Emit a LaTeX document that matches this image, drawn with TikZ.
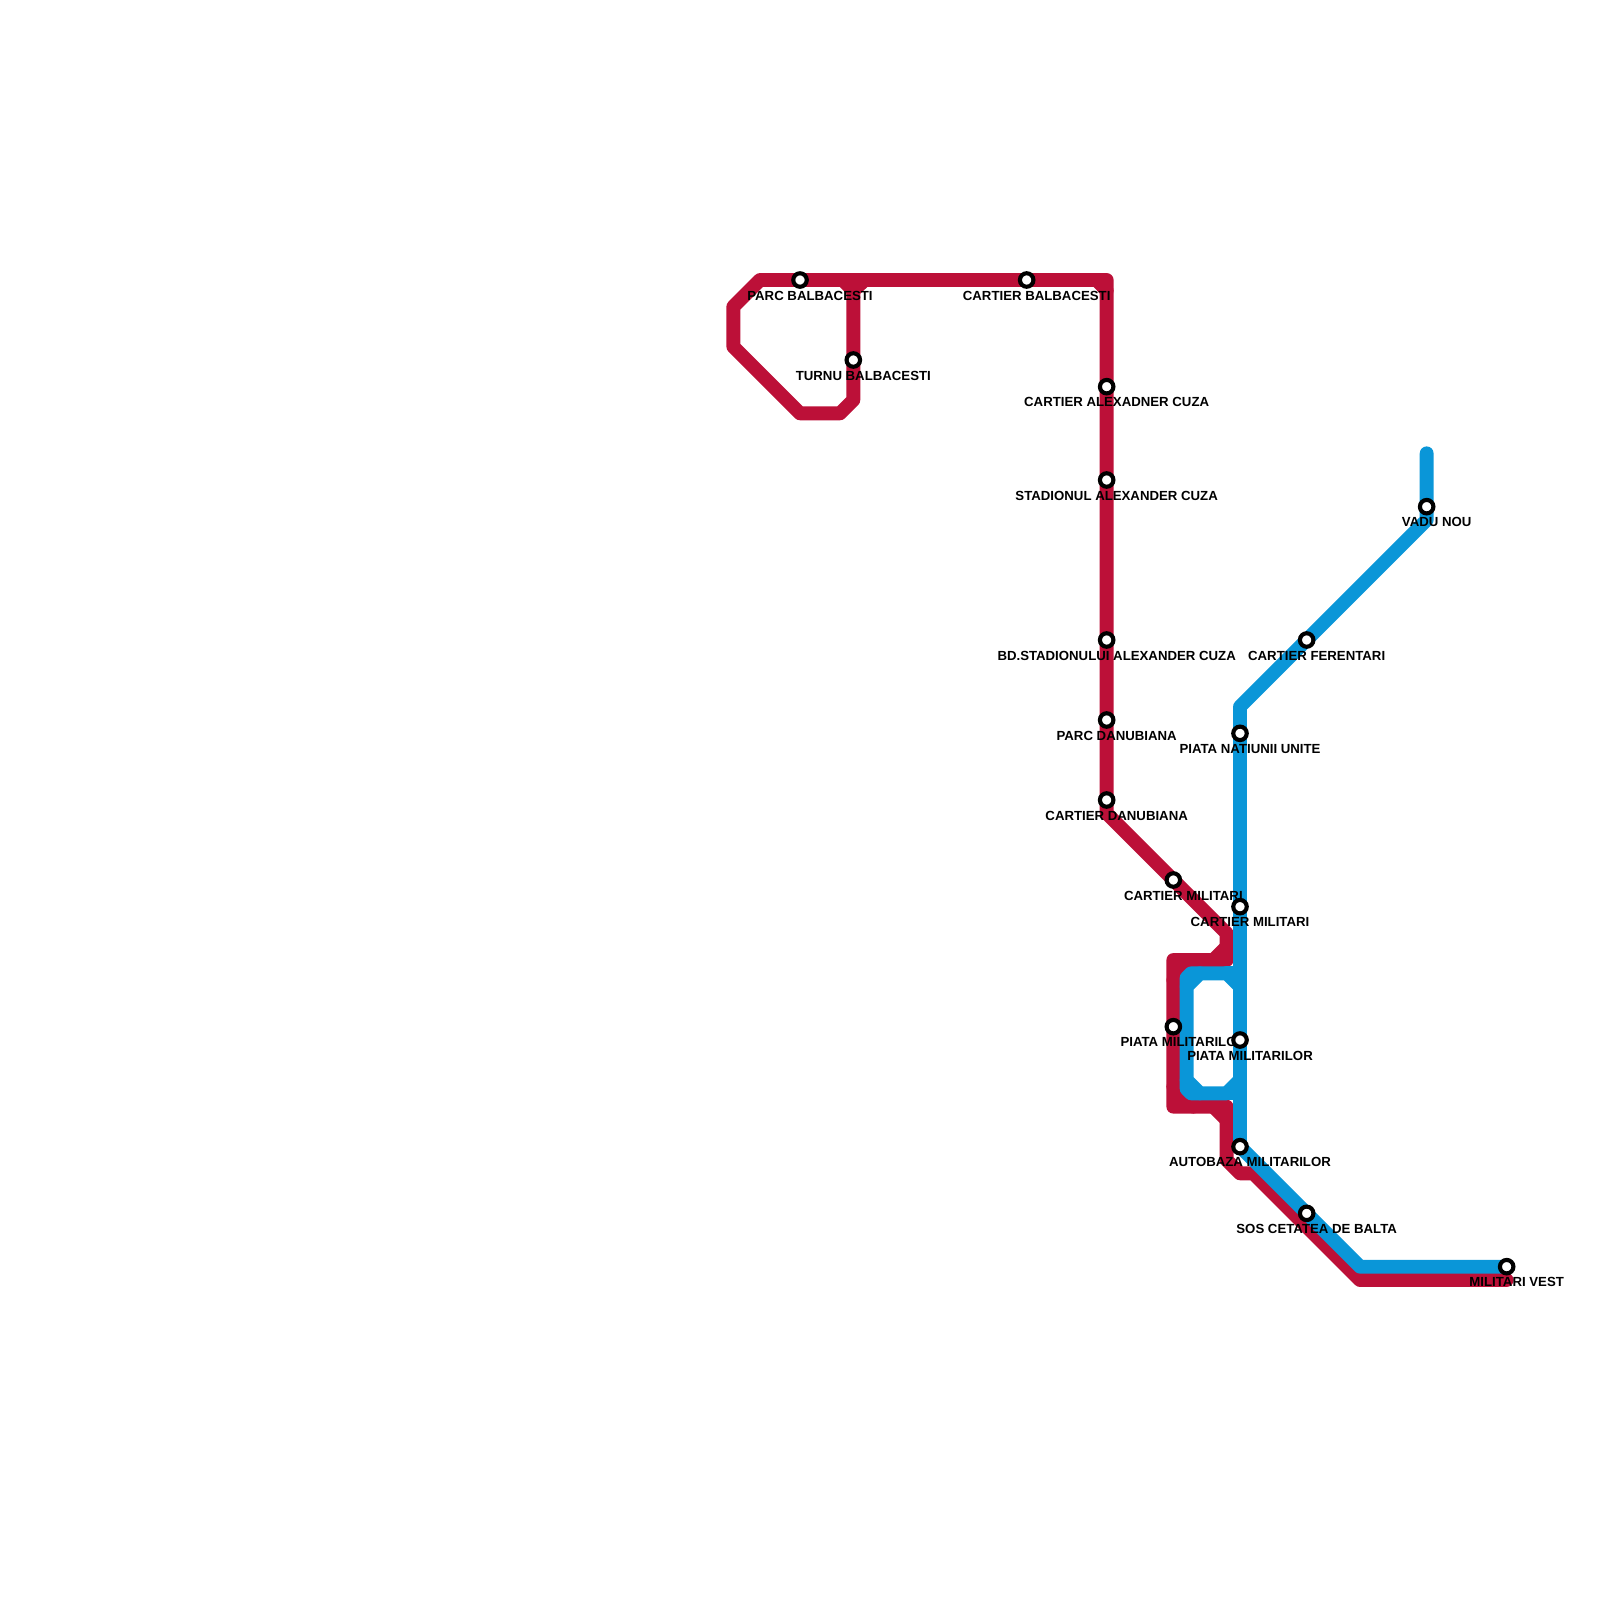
\documentclass[tikz,border=0pt]{standalone}
\usepackage{fontspec}
\setmainfont{Liberation Sans}
\usetikzlibrary{backgrounds}
\definecolor{linered}{HTML}{BC1038}
\definecolor{lineblue}{HTML}{0A96D8}
\tikzset{
  metro/.style={line width=0.52cm, line cap=round, line join=round},
  station/.style={circle, draw=black, fill=white, line width=4.4pt, minimum size=14.4pt, inner sep=0pt},
  stationlabel/.style={font=\bfseries\fontsize{14.1pt}{14.5pt}\selectfont, inner sep=0pt, text=black}
}
\begin{document}
\begin{tikzpicture}[x=0.5cm,y=-0.5cm]
  \useasboundingbox (0,0) rectangle (120,120);
  % stations
  \foreach \name/\pos/\txt in {
    parcbalb/{60,21}/PARC BALBACESTI,
    turnubalb/{64,27}/TURNU BALBACESTI,
    cartbalb/{77,21}/CARTIER BALBACESTI,
    cartalex/{83,29}/CARTIER ALEXADNER CUZA,
    stadalex/{83,36}/STADIONUL ALEXANDER CUZA,
    bdstad/{83,48}/BD.STADIONULUI ALEXANDER CUZA,
    parcdanub/{83,54}/PARC DANUBIANA,
    cartdanub/{83,60}/CARTIER DANUBIANA,
    cartmilred/{88,66}/CARTIER MILITARI,
    piatamilred/{88,77}/PIATA MILITARILOR,
    vadu/{107,38}/VADU NOU,
    ferentari/{98,48}/CARTIER FERENTARI,
    natiunii/{93,55}/PIATA NATIUNII UNITE,
    cartmilblue/{93,68}/CARTIER MILITARI,
    piatamilblue/{93,78}/PIATA MILITARILOR,
    autobaza/{93,86}/AUTOBAZA MILITARILOR,
    cetatea/{98,91}/SOS CETATEA DE BALTA,
    militarivest/{113,95}/MILITARI VEST}
  {
    \node[station] (\name) at (\pos) {};
    \node[stationlabel] (\name-label) at ([xshift=10.67pt,yshift=-16.5pt]\name.center) {\txt};
  }
  % bends of the red line
  \coordinate (r1) at (113,96);
  \coordinate (r2) at (102,96);
  \coordinate (r3) at (94,88);
  \coordinate (r4) at (93,88);
  \coordinate (r5) at (92,87);
  \coordinate (r6) at (92,83);
  \coordinate (r7) at (88,83);
  \coordinate (r8) at (91,83);
  \coordinate (r9) at (92,84);
  \coordinate (r10) at (88,72);
  \coordinate (r11) at (92,72);
  \coordinate (r12) at (91,72);
  \coordinate (r13) at (92,71);
  \coordinate (r14) at (92,70);
  \coordinate (r15) at (83,61);
  \coordinate (r16) at (83,21);
  \coordinate (r17a) at (82.25,21);
  \coordinate (r17b) at (83,21.8);
  \coordinate (r18) at (57,21);
  \coordinate (r19) at (55,23);
  \coordinate (r20) at (55,26);
  \coordinate (r21) at (60,31);
  \coordinate (r22) at (63,31);
  \coordinate (r23) at (64,30);
  \coordinate (r24) at (64,21);
  \coordinate (r25) at (63.2,21);
  \coordinate (r26) at (64,21.8);
  \coordinate (r27) at (64.85,21);
  \coordinate (r28) at (88,73.5);
  \coordinate (r29) at (89.5,72);
  \coordinate (r30) at (88,81.5);
  \coordinate (r31) at (89.5,83);
  % bends of the blue line
  \coordinate (b1) at (107,34);
  \coordinate (b2) at (107,39);
  \coordinate (b3) at (93,53);
  \coordinate (b4) at (102,95);
  \coordinate (b5) at (93,74);
  \coordinate (b6) at (92,73);
  \coordinate (b7) at (90,73);
  \coordinate (b8) at (89,74);
  \coordinate (b9) at (89,81);
  \coordinate (b10) at (90,82);
  \coordinate (b11) at (92,82);
  \coordinate (b12) at (93,81);
  \coordinate (b13) at (93,73);
  \coordinate (b14) at (93,82);
  \coordinate (b15) at (89,73.33);
  \coordinate (b16) at (89.33,73);
  \coordinate (b17) at (89,81.67);
  \coordinate (b18) at (89.33,82);
  \begin{scope}[on background layer]
    \draw[metro, linered] (r1) -- (r2) -- (r3) -- (r4) -- (r5) -- (r6) -- (r7) -- (r10) -- (r11) -- (r14) -- (r15) -- (r16)
      -- (r18) -- (r19) -- (r20) -- (r21) -- (r22) -- (r23) -- (r24);
    \draw[metro, linered] (r8) -- (r9);
    \draw[metro, linered] (r12) -- (r13);
    \draw[metro, linered] (r17a) -- (r17b);
    \draw[metro, linered] (r25) -- (r26) -- (r27);
    \draw[metro, linered] (r28) -- (r29);
    \draw[metro, linered] (r30) -- (r31);
    \draw[metro, lineblue] (b1) -- (b2) -- (b3) -- (autobaza.center) -- (b4) -- (militarivest.center);
    \draw[metro, lineblue] (b5) -- (b6) -- (b7) -- (b8) -- (b9) -- (b10) -- (b11) -- (b12);
    \draw[metro, lineblue] (b6) -- (b13);
    \draw[metro, lineblue] (b11) -- (b14);
    \draw[metro, lineblue] (b8) -- (b15) -- (b16) -- (b7);
    \draw[metro, lineblue] (b9) -- (b17) -- (b18) -- (b10);
  \end{scope}
\end{tikzpicture}
\end{document}
